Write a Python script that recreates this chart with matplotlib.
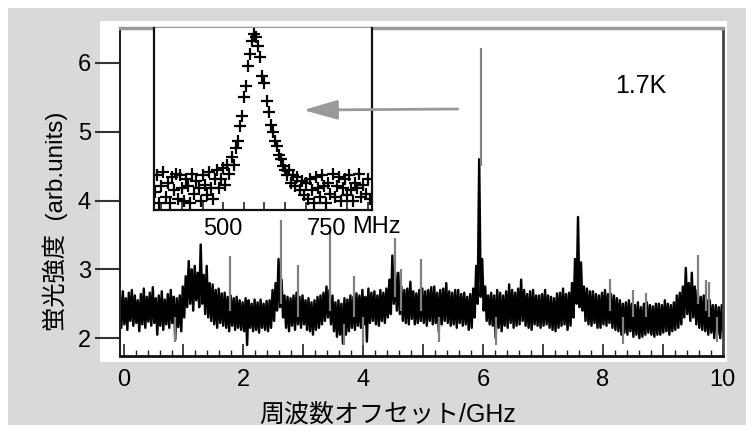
import numpy as np
import matplotlib
matplotlib.use('Agg')
from matplotlib import pyplot as plt
from matplotlib.patches import Rectangle
from matplotlib.ticker import MultipleLocator, FuncFormatter

plt.rcParams['font.family'] = ['Liberation Sans', 'Noto Sans CJK JP']

# main spectrum: top and bottom of the noisy trace, every 0.05 GHz from -0.05 GHz
main_hi = [
    2.62, 2.68, 2.58, 2.66, 2.70, 2.62, 2.55, 2.64, 2.72, 2.60, 2.66, 2.74, 2.58, 2.62, 2.68, 2.56, 2.64, 2.70, 2.60, 2.58,
    2.62, 2.75, 2.90, 3.12, 3.00, 3.05, 2.95, 3.36, 2.92, 3.05, 2.80, 2.78, 2.70, 2.72, 2.65, 2.66, 2.60, 2.62, 2.58, 2.60,
    2.55, 2.52, 2.58, 2.55, 2.50, 2.56, 2.52, 2.56, 2.50, 2.54, 2.55, 2.70, 2.80, 3.15, 2.85, 2.62, 2.60, 2.58, 2.62, 2.66,
    2.60, 2.62, 2.55, 2.58, 2.52, 2.55, 2.60, 2.62, 2.66, 2.75, 2.70, 2.62, 2.52, 2.55, 2.50, 2.58, 2.56, 2.62, 2.60, 2.65,
    2.62, 2.70, 2.60, 2.72, 2.66, 2.68, 2.62, 2.70, 2.66, 2.72, 2.85, 3.20, 2.95, 2.95, 2.75, 2.70, 2.72, 2.82, 2.68, 2.65,
    2.70, 2.72, 2.68, 2.70, 2.74, 2.75, 2.66, 2.70, 2.72, 2.80, 2.68, 2.66, 2.70, 2.70, 2.64, 2.66, 2.60, 2.64, 2.72, 3.05,
    4.60, 3.15, 2.75, 2.62, 2.66, 2.62, 2.70, 2.66, 2.62, 2.68, 2.78, 2.70, 2.66, 2.72, 2.85, 2.70, 2.64, 2.68, 2.70, 2.62,
    2.62, 2.64, 2.70, 2.62, 2.60, 2.58, 2.65, 2.66, 2.72, 2.64, 2.66, 2.80, 3.15, 3.76, 3.10, 2.75, 2.72, 2.68, 2.68, 2.64,
    2.62, 2.66, 2.70, 2.64, 2.64, 2.62, 2.58, 2.55, 2.50, 2.52, 2.55, 2.50, 2.48, 2.52, 2.45, 2.50, 2.52, 2.48, 2.46, 2.50,
    2.50, 2.48, 2.55, 2.50, 2.48, 2.52, 2.62, 2.66, 2.75, 3.02, 2.80, 2.95, 2.75, 2.70, 2.60, 2.62, 2.55, 2.55, 2.48, 2.48,
    2.45, 2.48,
]
main_lo = [
    2.15, 2.20, 2.12, 2.25, 2.18, 2.22, 2.10, 2.20, 2.15, 2.24, 2.18, 2.22, 2.05, 2.18, 2.12, 2.20, 2.15, 2.22, 1.98, 2.16,
    2.10, 2.30, 2.45, 2.50, 2.40, 2.55, 2.45, 2.50, 2.35, 2.30, 2.25, 2.20, 2.15, 2.22, 2.18, 2.15, 2.10, 2.18, 2.12, 2.15,
    2.12, 2.10, 1.90, 2.15, 2.10, 2.12, 2.08, 2.15, 2.12, 2.10, 2.15, 2.25, 2.40, 2.45, 2.30, 2.15, 2.10, 2.18, 2.12, 2.20,
    2.15, 2.20, 2.12, 2.10, 2.05, 2.12, 2.15, 2.20, 2.25, 2.30, 2.20, 2.10, 2.02, 2.05, 1.92, 2.05, 2.10, 2.15, 2.12, 2.18,
    2.15, 2.20, 1.95, 2.22, 2.25, 2.20, 2.18, 2.25, 2.22, 2.30, 2.35, 2.50, 2.40, 2.35, 2.25, 2.22, 2.20, 2.28, 2.20, 2.22,
    2.25, 2.22, 2.18, 2.25, 2.20, 2.22, 2.10, 2.20, 2.25, 2.22, 2.18, 2.20, 2.15, 2.22, 2.18, 2.20, 2.12, 2.15, 2.30, 2.50,
    2.60, 2.40, 2.25, 2.20, 2.18, 2.00, 2.15, 2.10, 2.18, 2.15, 2.22, 2.15, 2.18, 2.20, 2.25, 2.18, 2.15, 2.12, 2.20, 2.18,
    2.15, 2.18, 2.20, 2.15, 2.12, 2.10, 2.15, 2.18, 2.20, 2.12, 2.18, 2.30, 2.50, 2.45, 2.40, 2.25, 2.20, 2.18, 2.22, 2.15,
    2.15, 2.20, 2.18, 2.22, 2.15, 2.12, 2.10, 2.05, 2.08, 2.05, 2.10, 2.02, 2.05, 2.00, 2.02, 2.05, 2.08, 2.05, 2.02, 2.05,
    2.05, 2.08, 2.10, 2.05, 2.10, 2.12, 2.15, 2.20, 2.30, 2.35, 2.25, 2.30, 2.20, 2.15, 2.12, 2.10, 2.05, 2.08, 2.00, 2.05,
    2.00, 2.10,
]
main_x = -0.05 + 0.05 * np.arange(len(main_hi))

# thin grey spikes on top of the black trace
spike_x = [0.85, 1.78, 2.63, 2.92, 3.45, 3.68, 3.84, 4.00, 4.53, 4.63, 4.97, 5.26, 5.96,
           6.22, 8.12, 8.34, 8.51, 8.73, 9.59, 9.72, 9.78, 9.90]
spike_lo = [1.95, 2.40, 2.50, 2.30, 2.40, 1.90, 2.30, 1.90, 2.60, 2.40, 2.40, 1.95, 4.50,
            1.90, 2.40, 1.92, 2.30, 2.30, 2.50, 2.40, 2.30, 1.95]
spike_hi = [2.30, 3.20, 3.72, 3.06, 3.55, 2.20, 2.90, 2.30, 3.45, 3.01, 3.15, 2.30, 6.22,
            2.30, 2.86, 2.30, 2.70, 2.65, 3.21, 2.84, 2.82, 2.30]

# inset peak, every 5 MHz from 335 MHz
inset_vals = [
    0.10, 0.19, 0.04, 0.13, 0.21, 0.07, 0.15, 0.04, 0.18, 0.11, 0.20, 0.06, 0.19, 0.12, 0.05, 0.17,
    0.13, 0.04, 0.20, 0.09, 0.16, 0.12, 0.05, 0.19, 0.14, 0.08, 0.21, 0.12, 0.06, 0.17, 0.22, 0.12,
    0.17, 0.23, 0.14, 0.25, 0.20, 0.29, 0.25, 0.34, 0.38, 0.46, 0.52, 0.62, 0.68, 0.79, 0.86, 0.93,
    0.97, 0.95, 0.90, 0.84, 0.74, 0.70, 0.60, 0.54, 0.47, 0.43, 0.38, 0.35, 0.30, 0.28, 0.24, 0.22,
    0.19, 0.22, 0.15, 0.19, 0.13, 0.18, 0.11, 0.16, 0.08, 0.15,
    0.06, 0.17, 0.11, 0.04, 0.18, 0.12, 0.07, 0.19, 0.13, 0.04, 0.15, 0.09, 0.20, 0.07, 0.13, 0.18,
    0.05, 0.12, 0.17, 0.08, 0.19, 0.11, 0.05, 0.15, 0.12, 0.20, 0.07, 0.14, 0.09, 0.17, 0.06,
]
inset_mhz = 335 + 5 * np.arange(len(inset_vals))

x_ticks = [0, 1, 2, 3, 4, 5, 6, 7, 8, 9, 10]
y_ticks = [2, 3, 4, 5, 6]
inset_ticks = [500, 750]

W, H = 754, 433
fig = plt.figure(figsize=(W / 100, H / 100), dpi=100, facecolor='white')
fig.add_artist(Rectangle((8 / W, 8 / H), 738 / W, 417 / H, transform=fig.transFigure,
                         facecolor='#d9d9d9', edgecolor='none', zorder=-2))
fig.add_artist(Rectangle((100 / W, 1 - 362 / H), 627 / W, 341 / H, transform=fig.transFigure,
                         facecolor='white', edgecolor='none', zorder=-1))

ax = fig.add_axes([120 / W, 1 - 356 / H, 602.5 / W, 327.5 / H])

# zig-zag between top and bottom of each bin, like a dense noisy trace
zig_x = np.column_stack([main_x - 0.0125, main_x + 0.0125]).ravel()
zig_y = np.column_stack([main_hi, main_lo]).ravel()
ax.plot(zig_x, zig_y, color='black', lw=1.75)
ax.vlines(spike_x, spike_lo, spike_hi, color='#808080', lw=1.6)
ax.set_xlim(-0.06, 10.0)
ax.set_ylim(1.74, 6.5)

ax.set_xticks(x_ticks)
ax.xaxis.set_major_formatter(FuncFormatter(lambda v, p: '%d' % v if int(round(v)) % 2 == 0 else ''))
ax.xaxis.set_minor_locator(MultipleLocator(0.2))
ax.tick_params(axis='x', which='major', direction='in', length=8.5, width=1.2, pad=9.5,
               labelsize=17, color='#222222')
ax.tick_params(axis='x', which='minor', direction='in', length=4.3, width=1.0, color='#222222')
ax.set_yticks(y_ticks)
ax.tick_params(axis='y', direction='out', length=18, width=1.5, pad=3, labelsize=17, color='#333333')

ax.spines['left'].set_color('#222222')
ax.spines['left'].set_linewidth(1.5)
ax.spines['bottom'].set_color('#111111')
ax.spines['bottom'].set_linewidth(2)
ax.spines['top'].set_color('#999999')
ax.spines['top'].set_linewidth(2.5)
ax.spines['right'].set_color('#444444')
ax.spines['right'].set_linewidth(2)

ax.set_xlabel('周波数オフセット/GHz', fontsize=18)
ax.xaxis.label.set_va('center')
ax.xaxis.set_label_coords((387.5 - 120) / 602.5, (356 - 415) / 327.5)
ax.set_ylabel('蛍光強度  (arb.units)', fontsize=17.5)
ax.yaxis.label.set_va('center')
ax.yaxis.set_label_coords((55 - 120) / 602.5, (356 - 221) / 327.5)

ax.text(8.64, 5.67, '1.7K', fontsize=18, ha='center', va='center')

# inset
axins = fig.add_axes([154 / W, 1 - 210 / H, 217.7 / W, 181.7 / H])
axins.plot(inset_mhz, inset_vals, '+', color='black', ms=8, mew=1.6)
axins.set_xlim(332, 860)
axins.set_ylim(0, 1.0)
axins.set_xticks(inset_ticks)
axins.set_xticklabels(['500', '750'])
axins.xaxis.set_minor_locator(MultipleLocator(50))
axins.tick_params(axis='x', which='both', direction='in', length=5.8, width=1.2, pad=5.8,
                  labelsize=17, color='#222222')
axins.set_yticks([])
for s in ['left', 'right', 'bottom']:
    axins.spines[s].set_color('#111111')
    axins.spines[s].set_linewidth(1.6)
axins.spines['top'].set_visible(False)
axins.text(812, -17 / 181.7, 'MHz', fontsize=17, ha='left', va='center',
           transform=axins.get_xaxis_transform())

axins.annotate('', xy=(694, 0.55), xycoords='data', xytext=(5.58, 5.33), textcoords=ax.transData,
               arrowprops=dict(arrowstyle='-|>,head_length=1.4,head_width=0.4', color='#999999',
                               lw=2, mutation_scale=15, shrinkA=0, shrinkB=0),
               annotation_clip=False)

fig.savefig('out.png', dpi=100)
